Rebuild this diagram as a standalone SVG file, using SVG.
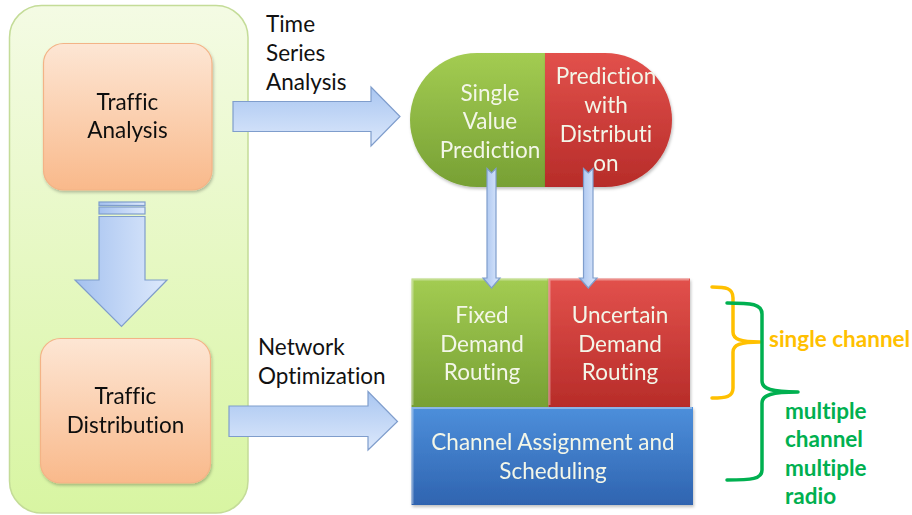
<svg xmlns="http://www.w3.org/2000/svg" width="912" height="515" viewBox="0 0 912 515">
  <defs>
    <linearGradient id="panelFill" x1="0" y1="0" x2="0" y2="1">
      <stop offset="0" stop-color="#f4fbe4"/>
      <stop offset="1" stop-color="#d8f5a2"/>
    </linearGradient>
    <linearGradient id="peachFill" x1="0" y1="0" x2="0" y2="1">
      <stop offset="0" stop-color="#fde6d4"/>
      <stop offset="1" stop-color="#f9b98b"/>
    </linearGradient>
    <linearGradient id="arrowH" x1="0" y1="0" x2="0" y2="1">
      <stop offset="0" stop-color="#a9c6f1"/>
      <stop offset="1" stop-color="#dce8fb"/>
    </linearGradient>
    <linearGradient id="arrowV" x1="0" y1="0" x2="1" y2="0">
      <stop offset="0" stop-color="#a4c1ef"/>
      <stop offset="1" stop-color="#dde9fc"/>
    </linearGradient>
    <linearGradient id="greenFill" x1="0" y1="0" x2="0" y2="1">
      <stop offset="0" stop-color="#a3cc52"/>
      <stop offset="1" stop-color="#77a034"/>
    </linearGradient>
    <linearGradient id="redFill" x1="0" y1="0" x2="0" y2="1">
      <stop offset="0" stop-color="#e2514c"/>
      <stop offset="1" stop-color="#b72c29"/>
    </linearGradient>
    <linearGradient id="blueFill" x1="0" y1="0" x2="0" y2="1">
      <stop offset="0" stop-color="#4d8fdb"/>
      <stop offset="1" stop-color="#2f64b0"/>
    </linearGradient>
    <filter id="shade" x="-5%" y="-5%" width="110%" height="115%">
      <feDropShadow dx="1" dy="2" stdDeviation="1.5" flood-color="#000" flood-opacity="0.25"/>
    </filter>
  </defs>
  <style>
    text { font-variant-ligatures: none; }
    .lbl { font-family: Lato, "Liberation Sans", sans-serif; font-size: 22.5px; text-anchor: middle; }
    .dark { fill: #111; }
    .light { fill: #f3f6e8; }
    .side { font-family: Lato, "Liberation Sans", sans-serif; font-size: 22.5px; fill: #111; }
    .note { font-family: Lato, "Liberation Sans", sans-serif; font-size: 22.5px; font-weight: bold; }
    .arrow { stroke: #7f9dcc; stroke-width: 1.2; stroke-linejoin: miter; }
    .brace { fill: none; stroke-width: 3.5; stroke-linecap: round; stroke-linejoin: round; }
    .bevel-hi { fill: none; stroke: #ffffff; stroke-opacity: 0.35; stroke-width: 2; }
  </style>

  <!-- left container -->
  <g id="panel">
    <rect x="9.5" y="5.5" width="238.5" height="507.5" rx="32" fill="url(#panelFill)" stroke="#c4dc98" stroke-width="1.5"/>
  </g>

  <g id="traffic-analysis" filter="url(#shade)">
    <rect x="43.5" y="43.5" width="168.5" height="146.5" rx="20" fill="url(#peachFill)" stroke="#f3b386" stroke-width="1.2"/>
    <text class="lbl dark" x="127.5" y="110">Traffic</text>
    <text class="lbl dark" x="127.5" y="138">Analysis</text>
  </g>

  <g id="traffic-distribution" filter="url(#shade)">
    <rect x="40.5" y="338.5" width="170" height="144.5" rx="20" fill="url(#peachFill)" stroke="#f3b386" stroke-width="1.2"/>
    <text class="lbl dark" x="125.5" y="404">Traffic</text>
    <text class="lbl dark" x="125.5" y="433">Distribution</text>
  </g>

  <!-- prediction capsule -->
  <g id="single-value-prediction" filter="url(#shade)">
    <path d="M477,53 H545 V187 H477 A67,67 0 0 1 477,53 Z" fill="url(#greenFill)"/>
    <text class="lbl light" x="490" y="101">Single</text>
    <text class="lbl light" x="490" y="129">Value</text>
    <text class="lbl light" x="490" y="158">Prediction</text>
  </g>
  <g id="prediction-with-distribution" filter="url(#shade)">
    <path d="M545,53 H605 A67,67 0 0 1 605,187 H545 Z" fill="url(#redFill)"/>
    <text class="lbl light" x="606" y="84">Prediction</text>
    <text class="lbl light" x="606" y="113">with</text>
    <text class="lbl light" x="606" y="142">Distributi</text>
    <text class="lbl light" x="606" y="171">on</text>
  </g>

  <!-- routing and scheduling stack -->
  <g id="fixed-demand-routing" filter="url(#shade)">
    <rect x="411.5" y="278.5" width="137" height="128.5" fill="url(#greenFill)"/>
    <path class="bevel-hi" d="M412.5,405 V279.5 H547.5"/>
    <text class="lbl light" x="482" y="323">Fixed</text>
    <text class="lbl light" x="482" y="352">Demand</text>
    <text class="lbl light" x="482" y="380">Routing</text>
  </g>
  <g id="uncertain-demand-routing" filter="url(#shade)">
    <rect x="548.5" y="278.5" width="141.5" height="128.5" fill="url(#redFill)"/>
    <path class="bevel-hi" d="M549.5,405 V279.5 H689"/>
    <text class="lbl light" x="620" y="323">Uncertain</text>
    <text class="lbl light" x="620" y="352">Demand</text>
    <text class="lbl light" x="620" y="380">Routing</text>
  </g>
  <g id="channel-assignment" filter="url(#shade)">
    <rect x="411.5" y="407" width="281.5" height="98" fill="url(#blueFill)"/>
    <path class="bevel-hi" d="M412.5,504 V408 H692"/>
    <text class="lbl light" x="553" y="450">Channel Assignment and</text>
    <text class="lbl light" x="553" y="479">Scheduling</text>
  </g>

  <!-- side labels -->
  <g id="label-time-series">
    <text class="side" x="266" y="32">Time</text>
    <text class="side" x="266" y="61">Series</text>
    <text class="side" x="266" y="90">Analysis</text>
  </g>
  <g id="label-network-optimization">
    <text class="side" x="258" y="355">Network</text>
    <text class="side" x="258" y="384">Optimization</text>
  </g>

  <!-- channel scope braces -->
  <g id="brace-single-channel">
    <path class="brace" stroke="#ffc000" d="M712,287 C726,287 733,288 733,298 V332 C733,339 740,342 760,342 C740,342 733,345 733,352 V388 C733,397 726,398 712,398"/>
    <text class="note" fill="#ffc000" x="769" y="347">single channel</text>
  </g>
  <g id="brace-multiple-channel">
    <path class="brace" stroke="#00b050" d="M727,303 C752,303 762,304 762,314 V381 C762,389 772,392 798,392 C772,392 762,395 762,403 V470 C762,479 752,480 727,480"/>
    <text class="note" fill="#00b050" x="785" y="419">multiple</text>
    <text class="note" fill="#00b050" x="785" y="447">channel</text>
    <text class="note" fill="#00b050" x="785" y="476">multiple</text>
    <text class="note" fill="#00b050" x="785" y="504">radio</text>
  </g>

  <!-- block arrows -->
  <g id="connectors">
    <path class="arrow" fill="url(#arrowV)" d="M99,216.5 H145 V280 H167 L121.5,326.5 L75,280 H99 Z"/>
    <rect class="arrow" fill="url(#arrowV)" x="99" y="207" width="46" height="7"/>
    <rect class="arrow" fill="url(#arrowV)" x="99" y="202" width="46" height="3.5"/>
    <path class="arrow" fill="url(#arrowH)" d="M233,101.5 H371 V87 L400,116.5 L371,146 V131.5 H233 Z"/>
    <path class="arrow" fill="url(#arrowH)" d="M229,406 H368 V391.5 L397.5,421.5 L368,450 V436.5 H229 Z"/>
    <path class="arrow" fill="url(#arrowV)" d="M487,168.5 L491.5,173 L496,168.5 V278 H500 L491.5,288 L483,278 H487 Z"/>
    <path class="arrow" fill="url(#arrowV)" d="M583.5,168.5 L588.3,173 L593,168.5 V278 H597 L588.3,288 L579.5,278 H583.5 Z"/>
  </g>
</svg>
